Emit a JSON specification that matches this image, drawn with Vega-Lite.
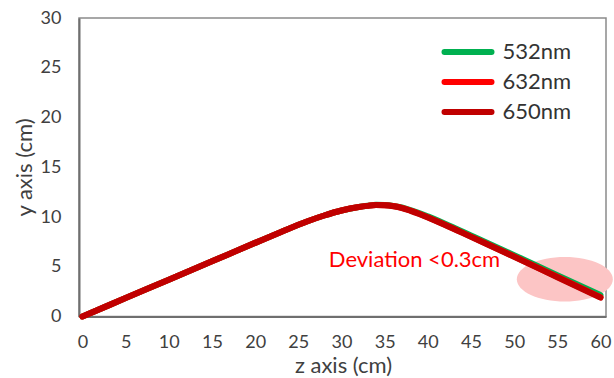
{
  "$schema": "https://vega.github.io/schema/vega-lite/v6.json",
  "width": 527,
  "height": 298.5,
  "autosize": {"type": "none"},
  "padding": {"left": 79, "top": 18, "right": 8, "bottom": 61.5},
  "background": "white",
  "config": {
    "view": {"stroke": "#8a8a8a", "strokeWidth": 1.5},
    "font": "Lato",
    "axis": {
      "grid": false,
      "ticks": false,
      "domainColor": "#6f6f6f",
      "domainWidth": 2,
      "labelFont": "Lato",
      "labelFontSize": 18,
      "labelColor": "#404040",
      "titleFont": "Lato",
      "titleFontSize": 22,
      "titleFontWeight": "normal",
      "titleColor": "#404040"
    }
  },
  "datasets": {
    "curves": [
      {"series": "532nm", "z": 0, "y": 0}, {"series": "532nm", "z": 5, "y": 1.85}, {"series": "532nm", "z": 10, "y": 3.7}, {"series": "532nm", "z": 15, "y": 5.55}, {"series": "532nm", "z": 20, "y": 7.4}, {"series": "532nm", "z": 23, "y": 8.5}, {"series": "532nm", "z": 26, "y": 9.55}, {"series": "532nm", "z": 28, "y": 10.15}, {"series": "532nm", "z": 30, "y": 10.65}, {"series": "532nm", "z": 32, "y": 11.0}, {"series": "532nm", "z": 33, "y": 11.13}, {"series": "532nm", "z": 34, "y": 11.22}, {"series": "532nm", "z": 35, "y": 11.2}, {"series": "532nm", "z": 36, "y": 11.12}, {"series": "532nm", "z": 37, "y": 10.96}, {"series": "532nm", "z": 38, "y": 10.7}, {"series": "532nm", "z": 39, "y": 10.4}, {"series": "532nm", "z": 40, "y": 10.06}, {"series": "532nm", "z": 42, "y": 9.33}, {"series": "532nm", "z": 45, "y": 8.15}, {"series": "532nm", "z": 50, "y": 6.17}, {"series": "532nm", "z": 55, "y": 4.15}, {"series": "532nm", "z": 60, "y": 2.15},
      {"series": "632nm", "z": 0, "y": 0}, {"series": "632nm", "z": 5, "y": 1.85}, {"series": "632nm", "z": 10, "y": 3.7}, {"series": "632nm", "z": 15, "y": 5.55}, {"series": "632nm", "z": 20, "y": 7.4}, {"series": "632nm", "z": 23, "y": 8.5}, {"series": "632nm", "z": 26, "y": 9.55}, {"series": "632nm", "z": 28, "y": 10.15}, {"series": "632nm", "z": 30, "y": 10.65}, {"series": "632nm", "z": 32, "y": 11.0}, {"series": "632nm", "z": 33, "y": 11.12}, {"series": "632nm", "z": 34, "y": 11.21}, {"series": "632nm", "z": 35, "y": 11.19}, {"series": "632nm", "z": 36, "y": 11.1}, {"series": "632nm", "z": 37, "y": 10.92}, {"series": "632nm", "z": 38, "y": 10.65}, {"series": "632nm", "z": 39, "y": 10.33}, {"series": "632nm", "z": 40, "y": 9.98}, {"series": "632nm", "z": 42, "y": 9.23}, {"series": "632nm", "z": 45, "y": 8.03}, {"series": "632nm", "z": 50, "y": 6.03}, {"series": "632nm", "z": 55, "y": 3.99}, {"series": "632nm", "z": 60, "y": 1.94},
      {"series": "650nm", "z": 0, "y": 0}, {"series": "650nm", "z": 5, "y": 1.85}, {"series": "650nm", "z": 10, "y": 3.7}, {"series": "650nm", "z": 15, "y": 5.55}, {"series": "650nm", "z": 20, "y": 7.4}, {"series": "650nm", "z": 23, "y": 8.5}, {"series": "650nm", "z": 26, "y": 9.55}, {"series": "650nm", "z": 28, "y": 10.15}, {"series": "650nm", "z": 30, "y": 10.65}, {"series": "650nm", "z": 32, "y": 11.0}, {"series": "650nm", "z": 33, "y": 11.12}, {"series": "650nm", "z": 34, "y": 11.2}, {"series": "650nm", "z": 35, "y": 11.18}, {"series": "650nm", "z": 36, "y": 11.08}, {"series": "650nm", "z": 37, "y": 10.9}, {"series": "650nm", "z": 38, "y": 10.62}, {"series": "650nm", "z": 39, "y": 10.3}, {"series": "650nm", "z": 40, "y": 9.95}, {"series": "650nm", "z": 42, "y": 9.2}, {"series": "650nm", "z": 45, "y": 8.0}, {"series": "650nm", "z": 50, "y": 6.0}, {"series": "650nm", "z": 55, "y": 3.95}, {"series": "650nm", "z": 60, "y": 1.9}
    ],
    "ellipse": [{"z": 55.87, "y": 3.75}],
    "label": [{"z": 38.46, "y": 4.95, "text": "Deviation <0.3cm"}]
  },
  "encoding": {
    "x": {
      "field": "z",
      "type": "quantitative",
      "scale": {"domain": [-0.4, 60.64], "nice": false, "zero": false},
      "axis": {"title": "z axis (cm)", "values": [0, 5, 10, 15, 20, 25, 30, 35, 40, 45, 50, 55, 60], "labelPadding": 17, "titleX": 264, "titleY": 56, "titleBaseline": "alphabetic"}
    },
    "y": {
      "field": "y",
      "type": "quantitative",
      "scale": {"domain": [0, 30], "nice": false},
      "axis": {"title": "y axis (cm)", "values": [0, 5, 10, 15, 20, 25, 30], "labelPadding": 18, "titleX": -48, "titleY": 149, "titleBaseline": "alphabetic", "titleAngle": -90}
    }
  },
  "layer": [
    {
      "data": {"name": "ellipse"},
      "mark": {"type": "point", "shape": "M-1,0A1,0.464,0,1,0,1,0A1,0.464,0,1,0,-1,0Z", "size": 9216, "filled": true, "fill": "#fcc5c5", "strokeWidth": 0, "opacity": 1}
    },
    {
      "data": {"name": "curves"},
      "mark": {"type": "line", "strokeWidth": 6, "strokeCap": "round", "strokeJoin": "round", "interpolate": "monotone"},
      "encoding": {
        "color": {
          "field": "series",
          "type": "nominal",
          "scale": {"domain": ["532nm", "632nm", "650nm"], "range": ["#00b050", "#ff0000", "#c00000"]},
          "legend": {
            "orient": "none", "legendX": 376, "legendY": 21, "title": null,
            "symbolType": "M-2.35,0H2.35", "symbolSize": 400, "symbolStrokeWidth": 6,
            "labelFont": "Lato", "labelFontSize": 22, "labelColor": "#333333",
            "labelOffset": 21.5, "rowPadding": 5, "padding": 0,
            "encode": {"symbols": {"update": {"strokeCap": {"value": "round"}}}}
          }
        }
      }
    },
    {
      "data": {"name": "label"},
      "mark": {"type": "text", "font": "Lato", "fontSize": 22, "color": "#ff0000", "align": "center", "baseline": "alphabetic"},
      "encoding": {"text": {"field": "text", "type": "nominal"}}
    }
  ]
}
